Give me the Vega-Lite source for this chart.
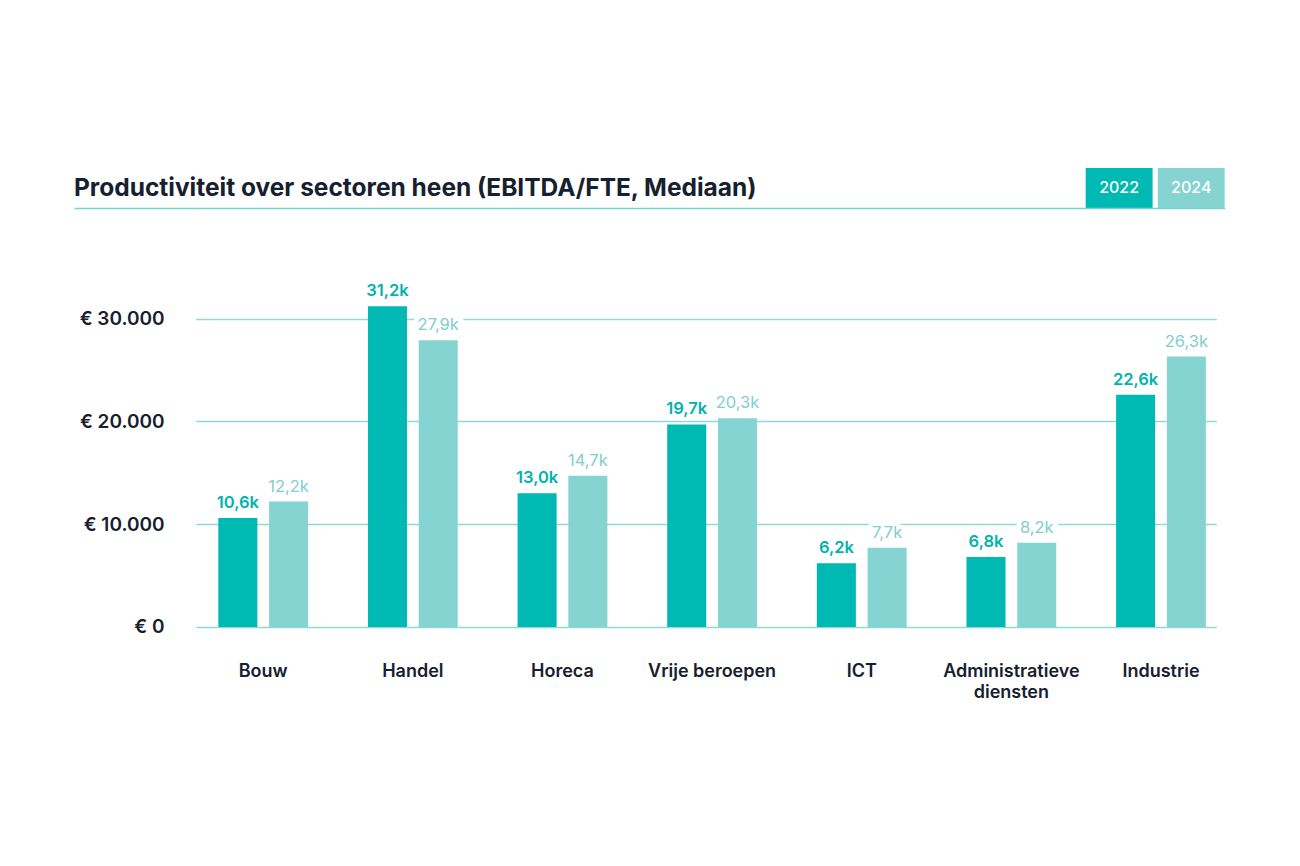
{
  "$schema": "https://vega.github.io/schema/vega-lite/v6.json",
  "background": "white",
  "padding": {"left": 72.7, "top": 168, "right": 10, "bottom": 10},
  "spacing": 74,
  "config": {
    "view": {"stroke": null},
    "font": "Inter"
  },
  "vconcat": [
    {
      "spacing": 0,
      "hconcat": [
        {
          "width": 890,
          "height": 40,
          "data": {"values": [{"title": "Productiviteit over sectoren heen (EBITDA/FTE, Mediaan)"}]},
          "mark": {"type": "text", "font": "Inter", "fontSize": 24.5, "fontWeight": 700, "fill": "#16202E", "align": "left", "baseline": "alphabetic", "dx": -121.7, "dy": -11.6},
          "encoding": {
            "x": {
              "field": "title",
              "type": "nominal",
              "scale": {"type": "point", "padding": 0, "align": 0},
              "axis": {"title": null, "labels": false, "ticks": false, "grid": false, "domain": true, "domainColor": "#72D7D3", "domainWidth": 1.5}
            },
            "y": {
              "field": "title",
              "type": "nominal",
              "scale": {"type": "point", "padding": 0, "align": 1},
              "axis": {"title": null, "labels": false, "domain": false, "grid": false, "ticks": true, "tickSize": 121.7, "tickColor": "#72D7D3", "tickWidth": 1.5}
            },
            "text": {"field": "title", "type": "nominal"}
          }
        },
        {
          "width": 139,
          "height": 40,
          "data": {"values": [{"year": "2022"}, {"year": "2024"}]},
          "encoding": {
            "x": {
              "field": "year",
              "type": "nominal",
              "scale": {"paddingInner": 0.072, "paddingOuter": 0},
              "axis": {"title": null, "labels": false, "ticks": false, "grid": false, "domain": true, "domainColor": "#72D7D3", "domainWidth": 1.5}
            }
          },
          "layer": [
            {
              "mark": {"type": "rect"},
              "encoding": {
                "color": {"field": "year", "type": "nominal", "scale": {"domain": ["2022", "2024"], "range": ["#00B9B3", "#86D4D2"]}, "legend": null}
              }
            },
            {
              "mark": {"type": "text", "font": "Inter", "fontSize": 16, "fontWeight": 500, "fill": "white", "baseline": "middle"},
              "encoding": {"text": {"field": "year", "type": "nominal"}}
            }
          ]
        }
      ]
    },
    {
      "width": 1020.6,
      "height": 329,
      "data": {
        "values": [
          {"sector": "Bouw", "year": "2022", "value": 10600, "label": "10,6k"},
          {"sector": "Bouw", "year": "2024", "value": 12200, "label": "12,2k"},
          {"sector": "Handel", "year": "2022", "value": 31200, "label": "31,2k"},
          {"sector": "Handel", "year": "2024", "value": 27900, "label": "27,9k"},
          {"sector": "Horeca", "year": "2022", "value": 13000, "label": "13,0k"},
          {"sector": "Horeca", "year": "2024", "value": 14700, "label": "14,7k"},
          {"sector": "Vrije beroepen", "year": "2022", "value": 19700, "label": "19,7k"},
          {"sector": "Vrije beroepen", "year": "2024", "value": 20300, "label": "20,3k"},
          {"sector": "ICT", "year": "2022", "value": 6200, "label": "6,2k"},
          {"sector": "ICT", "year": "2024", "value": 7700, "label": "7,7k"},
          {"sector": "Administratieve diensten", "year": "2022", "value": 6800, "label": "6,8k"},
          {"sector": "Administratieve diensten", "year": "2024", "value": 8200, "label": "8,2k"},
          {"sector": "Industrie", "year": "2022", "value": 22600, "label": "22,6k"},
          {"sector": "Industrie", "year": "2024", "value": 26300, "label": "26,3k"}
        ]
      },
      "encoding": {
        "x": {
          "field": "sector",
          "type": "nominal",
          "sort": ["Bouw", "Handel", "Horeca", "Vrije beroepen", "ICT", "Administratieve diensten", "Industrie"],
          "scale": {"paddingInner": 0.4, "paddingOuter": 0.1104, "align": 0.685},
          "axis": {
            "title": null,
            "labelAngle": 0,
            "domain": false,
            "ticks": false,
            "grid": false,
            "labelPadding": 36,
            "labelFont": "Inter",
            "labelFontSize": 18,
            "labelFontWeight": 600,
            "labelColor": "#16202E",
            "labelLineHeight": 20.5,
            "labelBaseline": "top",
            "labelExpr": "datum.label == 'Administratieve diensten' ? ['Administratieve', 'diensten'] : datum.label"
          }
        },
        "xOffset": {"field": "year", "type": "nominal", "scale": {"paddingInner": 0.231}},
        "y": {
          "field": "value",
          "type": "quantitative",
          "scale": {"domain": [0, 32000], "nice": false},
          "axis": {
            "title": null,
            "values": [0, 10000, 20000, 30000],
            "labelExpr": "'€ ' + replace(format(datum.value, ',d'), ',', '.')",
            "domain": false,
            "ticks": false,
            "grid": true,
            "gridColor": "#8FDAD7",
            "gridWidth": 1.5,
            "labelPadding": 31.7,
            "labelFont": "Inter",
            "labelFontSize": 19,
            "labelFontWeight": 600,
            "labelColor": "#16202E"
          }
        }
      },
      "layer": [
        {
          "mark": {"type": "bar"},
          "encoding": {
            "color": {"field": "year", "type": "nominal", "scale": {"domain": ["2022", "2024"], "range": ["#00B9B3", "#86D4D2"]}, "legend": null}
          }
        },
        {
          "mark": {"type": "text", "font": "Inter", "fontSize": 16.5, "fontWeight": 600, "baseline": "alphabetic", "dy": -10, "fill": "white", "stroke": "white", "strokeWidth": 8, "strokeJoin": "round"},
          "encoding": {"text": {"field": "label", "type": "nominal"}}
        },
        {
          "transform": [{"filter": "datum.year == '2022'"}],
          "mark": {"type": "text", "font": "Inter", "fontSize": 16.5, "fontWeight": 600, "baseline": "alphabetic", "dy": -10, "fill": "#00B3AD"},
          "encoding": {"text": {"field": "label", "type": "nominal"}}
        },
        {
          "transform": [{"filter": "datum.year == '2024'"}],
          "mark": {"type": "text", "font": "Inter", "fontSize": 16.5, "fontWeight": 400, "baseline": "alphabetic", "dy": -10, "fill": "#7ECFCD"},
          "encoding": {"text": {"field": "label", "type": "nominal"}}
        }
      ]
    }
  ]
}
